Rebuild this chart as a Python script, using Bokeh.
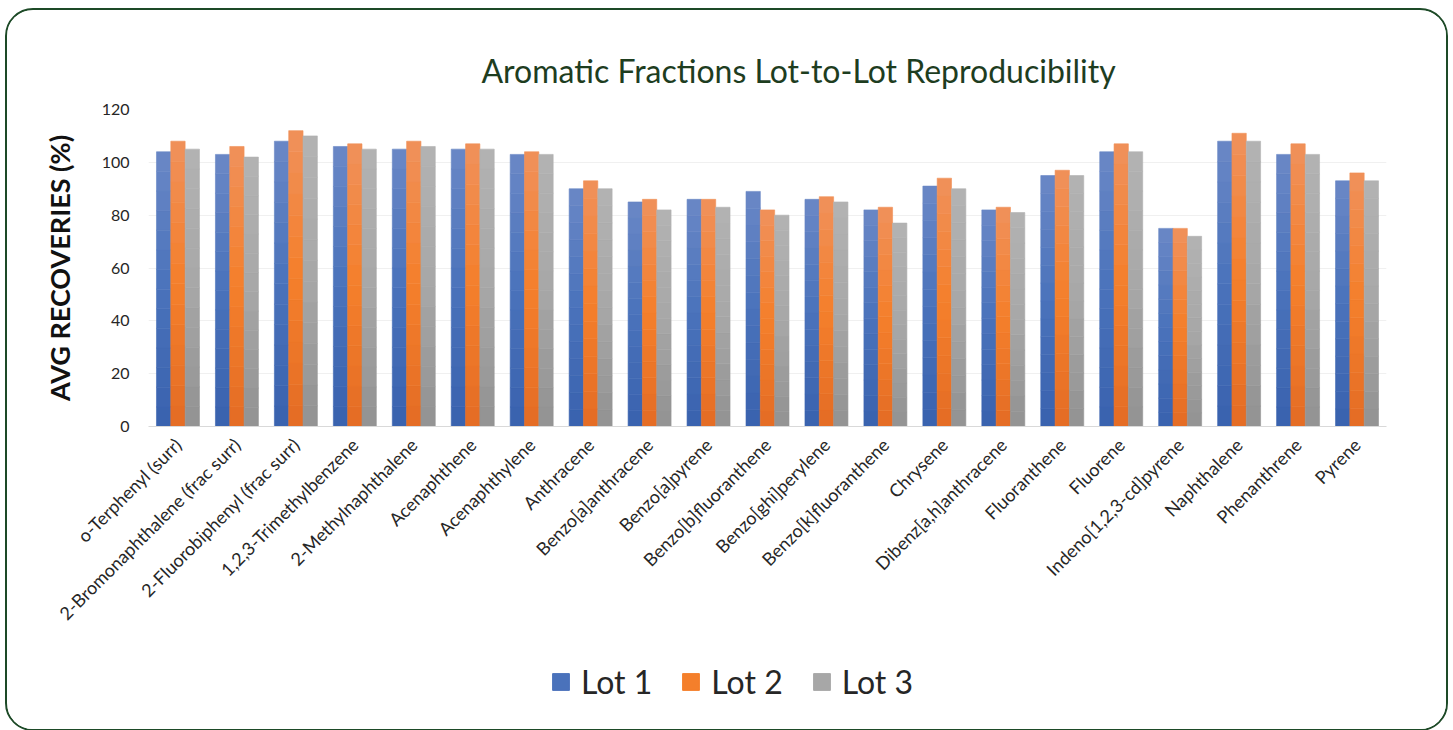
import numpy as np
from bokeh.plotting import figure
from bokeh.layouts import column
from bokeh.models import (ColumnDataSource, FactorRange, Legend, LegendItem, Title)
from bokeh.transform import dodge
from bokeh.embed import file_html
from bokeh.resources import INLINE

# ---------------- data ----------------
categories = [
    "o-Terphenyl (surr)", "2-Bromonaphthalene (frac surr)", "2-Fluorobiphenyl (frac surr)",
    "1,2,3-Trimethylbenzene", "2-Methylnaphthalene", "Acenaphthene", "Acenaphthylene",
    "Anthracene", "Benzo[a]anthracene", "Benzo[a]pyrene", "Benzo[b]fluoranthene",
    "Benzo[ghi]perylene", "Benzo[k]fluoranthene", "Chrysene", "Dibenz[a,h]anthracene",
    "Fluoranthene", "Fluorene", "Indeno[1,2,3-cd]pyrene", "Naphthalene", "Phenanthrene",
    "Pyrene",
]
lot1 = [104, 103, 108, 106, 105, 105, 103, 90, 85, 86, 89, 86, 82, 91, 82, 95, 104, 75, 108, 103, 93]
lot2 = [108, 106, 112, 107, 108, 107, 104, 93, 86, 86, 82, 87, 83, 94, 83, 97, 107, 75, 111, 107, 96]
lot3 = [105, 102, 110, 105, 106, 105, 103, 90, 82, 83, 80, 85, 77, 90, 81, 95, 104, 72, 108, 103, 93]
series_names = ["Lot 1", "Lot 2", "Lot 3"]
y_ticks = [0, 20, 40, 60, 80, 100, 120]

# gradient stops (bottom, middle, top) per series
stops = [
    ("#3962ae", "#4a72bb", "#6a88c6"),
    ("#e46c25", "#f47f2b", "#f0915b"),
    ("#929292", "#a7a7a7", "#b3b3b3"),
]

FONT = "Lato"
W = 1439
H_MAIN, H_LEG = 641, 78
FL, FR, FT = 141, 60, 99
FB = H_MAIN - FT - 317

p = figure(x_range=FactorRange(*categories), y_range=(0, 120),
           width=W, height=H_MAIN, output_backend="svg", toolbar_location=None,
           min_border_left=FL, min_border_right=FR, min_border_top=FT, min_border_bottom=FB,
           background_fill_color="white", border_fill_color="white")
p.x_range.range_padding = 0
p.outline_line_color = None


def hx(c):
    c = c.lstrip("#")
    return np.array([int(c[i:i + 2], 16) for i in (0, 2, 4)], dtype=float)


def mix(a, b, t):
    v = hx(a) * (1 - t) + hx(b) * t
    return "#%02x%02x%02x" % tuple(int(round(x)) for x in v)


def grad(st, f):
    if f < 0.5:
        return mix(st[0], st[1], f / 0.5)
    return mix(st[1], st[2], (f - 0.5) / 0.5)


N = 14
bw = 0.243
offsets = [-bw, 0.0, bw]
for s, vals in enumerate([lot1, lot2, lot3]):
    v = np.array(vals, dtype=float)
    for k in range(N):
        src = ColumnDataSource(dict(cat=categories, bottom=v * k / N, top=v * (k + 1) / N))
        col = grad(stops[s], (k + 0.5) / N)
        p.vbar(x=dodge("cat", offsets[s], range=p.x_range), bottom="bottom", top="top",
               width=bw, source=src, fill_color=col, line_color=col, line_width=0.6)

# axes
p.yaxis.ticker = y_ticks
p.yaxis.axis_line_color = None
p.yaxis.major_tick_line_color = None
p.yaxis.minor_tick_line_color = None
p.yaxis.major_tick_out = 0
p.yaxis.major_label_standoff = 19
p.yaxis.major_label_text_font = FONT
p.yaxis.major_label_text_font_size = "16px"
p.yaxis.major_label_text_color = "#262626"
p.yaxis.axis_label = "AVG RECOVERIES (%)"
p.yaxis.axis_label_text_font = FONT
p.yaxis.axis_label_text_font_style = "bold"
p.yaxis.axis_label_text_font_size = "27px"
p.yaxis.axis_label_text_color = "#111111"
p.yaxis.axis_label_standoff = 23

p.xaxis.axis_line_color = "#d9d9d9"
p.xaxis.major_tick_line_color = None
p.xaxis.minor_tick_line_color = None
p.xaxis.major_tick_out = 0
p.xaxis.major_label_orientation = np.pi / 4
p.xaxis.major_label_text_font = FONT
p.xaxis.major_label_text_font_size = "18px"
p.xaxis.major_label_text_color = "#262626"
p.xaxis.major_label_standoff = 15

p.xgrid.grid_line_color = None
p.ygrid.grid_line_color = "#f0f0f0"
p.ygrid.ticker = y_ticks

title = Title(text="Aromatic Fractions Lot-to-Lot Reproducibility", align="left", offset=333,
              standoff=40, text_font=FONT, text_font_size="32px", text_font_style="normal",
              text_color="#1e3d1f")
p.add_layout(title, "above")

# legend strip underneath (legend-only swatch renderers, zero-height and off-view)
leg = figure(width=W, height=H_LEG, output_backend="svg", toolbar_location=None,
             x_range=(0, 1), y_range=(0, 1), min_border=0,
             background_fill_color="white", border_fill_color="white")
leg.axis.visible = False
leg.grid.grid_line_color = None
leg.outline_line_color = None
items = []
for s, name in enumerate(series_names):
    src = ColumnDataSource(dict(x=[-10.0], top=[0.0]))
    r = leg.vbar(x="x", top="top", width=0.0, source=src,
                 fill_color=stops[s][1], line_color=stops[s][1])
    items.append(LegendItem(label=name, renderers=[r]))
legend = Legend(items=items, location=(402, 28), orientation="horizontal",
                label_text_font=FONT, label_text_font_size="32px", label_text_color="#262626",
                glyph_width=21, glyph_height=21, spacing=28, label_standoff=10,
                padding=0, margin=0, border_line_color=None, background_fill_alpha=0)
leg.add_layout(legend, "center")

layout = column(p, leg, spacing=0)
layout.margin = (8, 0, 0, 5)
layout.styles = {"border": "2.5px solid #1d4a27", "border-radius": "28px",
                 "overflow": "hidden", "background": "white"}

open("out.html", "w").write(file_html(layout, INLINE))
